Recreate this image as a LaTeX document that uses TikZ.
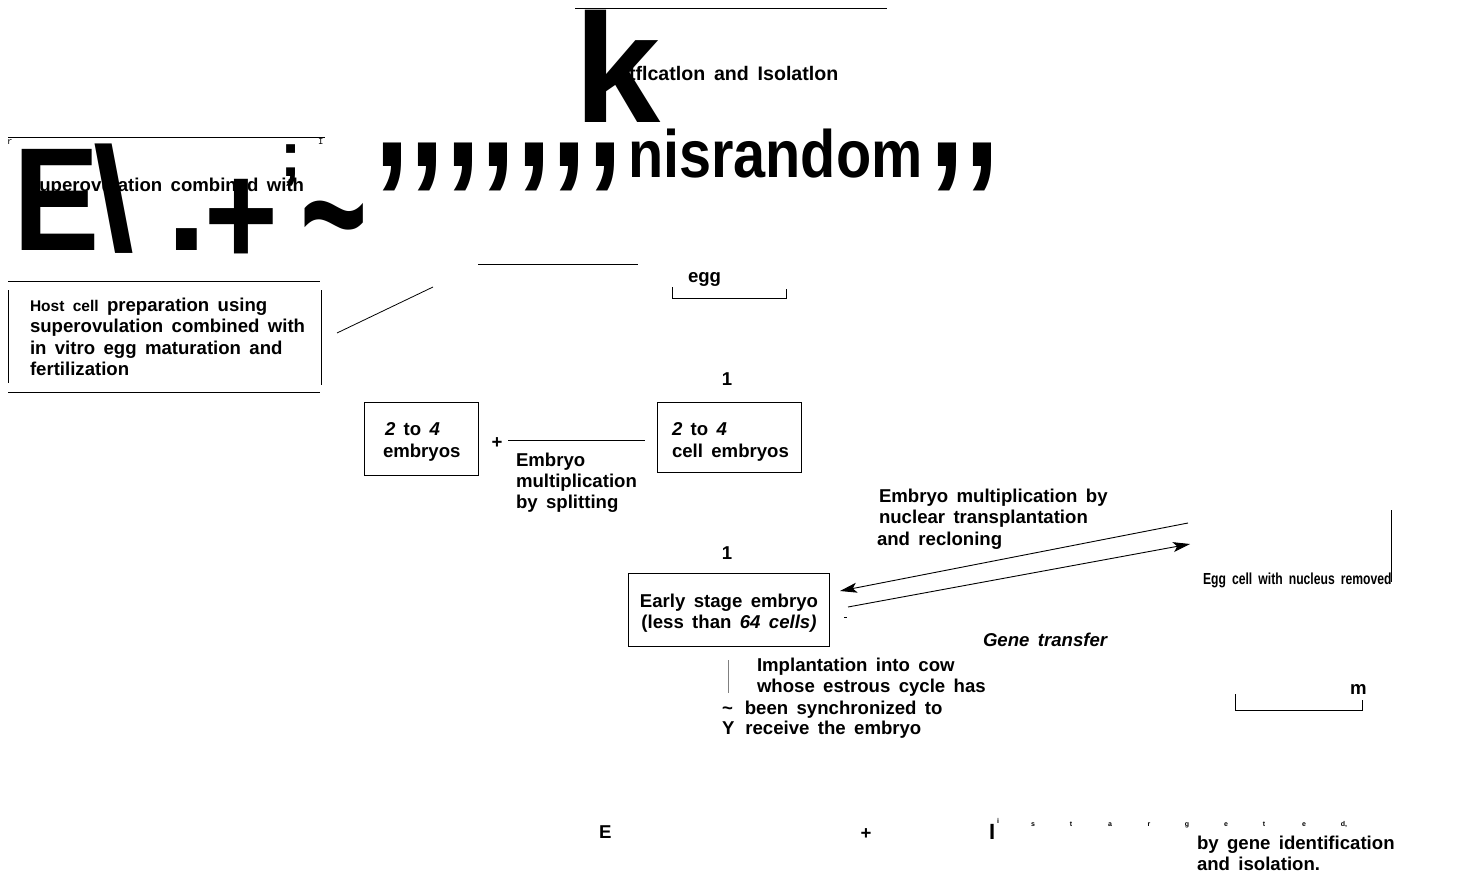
\documentclass[tikz,border=0pt]{standalone}
\usepackage{fontspec}
\setmainfont{Liberation Sans}
\setmonofont{Liberation Mono}
\usepackage{graphicx}
\newcommand\txtf{\fontsize{18.6}{21.5}\selectfont\bfseries\spaceskip=0.45em plus 0.1em\relax}
\newcommand\identf{\fontsize{19.6}{22}\selectfont\bfseries\spaceskip=0.45em plus 0.1em\relax}
\newcommand\bigf[1]{\fontsize{#1}{#1}\selectfont\bfseries}
\usetikzlibrary{arrows.meta}
\tikzset{
  lbl/.style={inner sep=0pt, outer sep=0pt, font=\txtf, anchor=base west},
  lblc/.style={inner sep=0pt, outer sep=0pt, font=\txtf, anchor=base},
  glyph/.style={inner sep=0pt, outer sep=0pt, anchor=base west},
  ln/.style={line width=0.8pt},
  arr/.style={line width=0.9pt, -{Stealth[length=17pt,width=10pt,inset=4pt]}},
  tiny/.style={inner sep=0pt, outer sep=0pt, font=\fontsize{7}{7}\selectfont\bfseries, anchor=base},
}
\begin{document}
\begin{tikzpicture}[x=1pt,y=-1pt]
\useasboundingbox (0,0) rectangle (1465,880);

% ---- top title area
\coordinate (tl1) at (575,8); \coordinate (tl2) at (887,8);
\draw[ln] (tl1) -- (tl2);
\node[lbl, font=\identf] (ident) at (629,81) {tflcatlon and Isolatlon};
\node[glyph] (bigk) at (574,123) {\bigf{155}k};
\node[glyph] (commasA) at (374,167) {\scalebox{0.81}[1]{\bigf{158},{},{},{},{},{},{},}};
\node[glyph] (random) at (628,178) {\scalebox{0.86}[1]{\bigf{67}nisrandom}};
\node[glyph] (commasB) at (929,167) {\scalebox{0.81}[1]{\bigf{158},{},}};

% ---- left garbled header
\coordinate (hl1) at (8,137); \coordinate (hl2) at (325,137);
\draw[ln] (hl1) -- (hl2);
\node[glyph, font=\ttfamily\fontsize{9}{9}\selectfont] (rr) at (7,145) {r};
\node[glyph, font=\ttfamily\fontsize{9}{9}\selectfont] (ii) at (318,145) {I};
\node[lbl] (superA) at (29,191) {superovulation combined with};
\node[glyph] (bigE) at (13,250) {\scalebox{0.88}[1]{\bigf{147}E}};
\node[glyph] (bigbs) at (93,250) {\bigf{147}\symbol{92}};
\node[glyph] (bigdot) at (166,250) {\bigf{147}.};
\node[glyph] (bigplus) at (204,265) {\scalebox{0.86}[1]{\bigf{147}+}};
\node[glyph] (bigsemi) at (280,177) {\bigf{63};};
\node[glyph] (bigtilde) at (300,276) {\scalebox{1}[1.6]{\bigf{115}\symbol{126}}};

% ---- host cell box
\coordinate (hb1) at (8,281); \coordinate (hb2) at (320,281);
\coordinate (hb3) at (8,392); \coordinate (hb4) at (320,392);
\coordinate (hv1) at (8,290); \coordinate (hv2) at (8,383);
\coordinate (hv3) at (321,290); \coordinate (hv4) at (321,385);
\draw[ln] (hb1) -- (hb2);
\draw[ln] (hb3) -- (hb4);
\draw[ln] (hv1) -- (hv2);
\draw[ln] (hv3) -- (hv4);
\node[lbl] (host1) at (30,311) {{\fontsize{15.5}{18}\selectfont Host cell} preparation using};
\node[lbl] (host2) at (30,332.5) {superovulation combined with};
\node[lbl] (host3) at (30,354) {in vitro egg maturation and};
\node[lbl] (host4) at (30,375.5) {fertilization};

\coordinate (dg1) at (337,333); \coordinate (dg2) at (433,287);
\draw[ln] (dg1) -- (dg2);
\coordinate (ml1) at (478,264); \coordinate (ml2) at (638,264);
\draw[ln] (ml1) -- (ml2);

% ---- egg bracket
\node[lbl] (egg) at (688,282) {egg};
\coordinate (eb1) at (672,287); \coordinate (eb2) at (672,298);
\coordinate (eb3) at (786,298); \coordinate (eb4) at (786,289);
\draw[ln] (eb1) -- (eb2) -- (eb3) -- (eb4);

% ---- 2 to 4 boxes
\node[lblc] (one1) at (727,385) {1};
\node[draw, ln, minimum width=114pt, minimum height=73pt, inner sep=0pt] (boxA) at (421,438.5) {};
\node[lbl] (a1) at (385,435) {\textit{2} to \textit{4}};
\node[lbl] (a2) at (383,457) {embryos};
\node[lblc] (plus1) at (497,448) {+};
\coordinate (sl1) at (508,440); \coordinate (sl2) at (645,440);
\draw[ln] (sl1) -- (sl2);
\node[lbl] (s1) at (516,466) {Embryo};
\node[lbl] (s2) at (516,487) {multiplication};
\node[lbl] (s3) at (516,508) {by splitting};
\node[draw, ln, minimum width=144pt, minimum height=70pt, inner sep=0pt] (boxB) at (729,437) {};
\node[lbl] (b1) at (672,435) {\textit{2} to \textit{4}};
\node[lbl] (b2) at (672,457) {cell embryos};

% ---- early stage embryo
\node[lblc] (one2) at (727,559) {1};
\node[draw, ln, minimum width=201pt, minimum height=73pt, inner sep=0pt] (boxC) at (728.5,609.5) {};
\node[lblc] (c1) at (729,607) {Early stage embryo};
\node[lblc] (c2) at (729,628) {(less than \textit{64 cells)}};

% ---- nuclear transplantation arrows
\node[lbl] (n1) at (879,502) {Embryo multiplication by};
\node[lbl] (n2) at (879,523) {nuclear transplantation};
\node[lbl] (n3) at (877,545) {and recloning};
\coordinate (ua1) at (1188,523); \coordinate (ua2) at (840,591);
\coordinate (la1) at (848,607); \coordinate (la2) at (1190,544);
\draw[arr] (ua1) -- (ua2);
\draw[arr] (la1) -- (la2);
\coordinate (dt1) at (844,617); \coordinate (dt2) at (847,617);
\draw[line width=1pt] (dt1) -- (dt2);

\node[glyph] (eggcell) at (1203,584) {\scalebox{0.76}[1]{\fontsize{16}{16}\selectfont\bfseries\spaceskip=0.5em Egg cell with nucleus removed}};
\coordinate (ev1) at (1391,510); \coordinate (ev2) at (1391,582);
\draw[ln] (ev1) -- (ev2);

\node[lbl] (gene) at (983,646) {\itshape Gene transfer};

% ---- implantation
\coordinate (iv1) at (728,660); \coordinate (iv2) at (728,693);
\draw[line width=0.5pt, gray] (iv1) -- (iv2);
\node[lbl] (i1) at (757,671) {Implantation into cow};
\node[lbl] (i2) at (757,692) {whose estrous cycle has};
\node[lbl] (i3) at (722,714) {\symbol{126}\hspace{12pt}been synchronized to};
\node[lbl] (i4) at (722,734) {Y\hspace{11pt}receive the embryo};

% ---- m bracket
\node[lbl] (mm) at (1350,694) {m};
\coordinate (mb1) at (1235,694); \coordinate (mb2) at (1235,710);
\coordinate (mb3) at (1362,710); \coordinate (mb4) at (1362,700);
\draw[ln] (mb1) -- (mb2) -- (mb3) -- (mb4);

% ---- bottom row
\node[lbl] (bE) at (599,838) {E};
\node[lblc] (bplus) at (866,839) {+};
\node[glyph, font=\fontsize{22}{22}\selectfont\bfseries] (bI) at (989,839) {I};
\node[tiny] (bi) at (998,823) {i};
\foreach \ch/\xx [count=\k] in {s/1033,t/1071,a/1110,r/1149,g/1187,e/1226,t/1264,e/1304,{d,}/1344}{
  \node[tiny] (tg\k) at (\xx,826) {\ch};
}
\node[lbl] (g1) at (1197,849) {by gene identification};
\node[lbl] (g2) at (1197,870) {and isolation.};
\end{tikzpicture}
\end{document}
